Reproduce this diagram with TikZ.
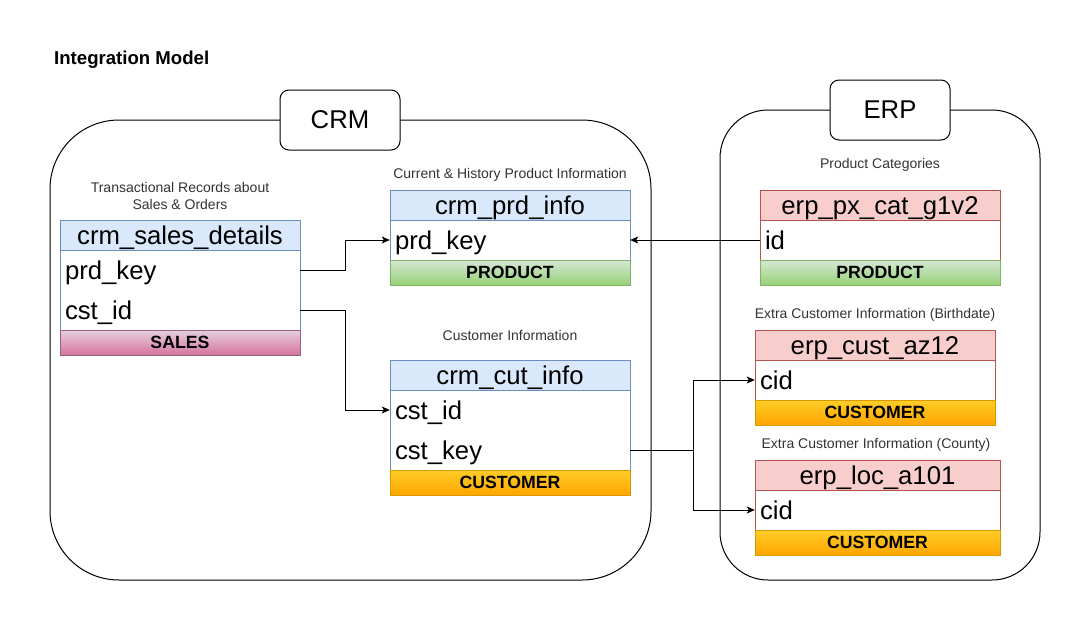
\documentclass[tikz,border=0pt]{standalone}
\usepackage{fontspec}
\setmainfont{Liberation Sans}
\usetikzlibrary{arrows.meta}
\newcommand\hdrfont{\fontsize{25.7}{30}\selectfont}
\newcommand\lblfont{\fontsize{14}{17}\selectfont}
\newcommand\ftrfont{\fontsize{17.7}{20}\selectfont\bfseries}
\newcommand\ttlfont{\fontsize{18.6}{21}\selectfont\bfseries}
\definecolor{bluefill}{HTML}{DAE8FC}
\definecolor{bluestroke}{HTML}{6C8EBF}
\definecolor{redfill}{HTML}{F8CECC}
\definecolor{redstroke}{HTML}{B85450}
\definecolor{greentop}{HTML}{D5E8D4}
\definecolor{greenbot}{HTML}{97D077}
\definecolor{greenstroke}{HTML}{82B366}
\definecolor{pinktop}{HTML}{E6D0DE}
\definecolor{pinkbot}{HTML}{D5739D}
\definecolor{pinkstroke}{HTML}{996185}
\definecolor{orangetop}{HTML}{FFCD28}
\definecolor{orangebot}{HTML}{FFA500}
\definecolor{orangestroke}{HTML}{D79B00}
\definecolor{lblgray}{HTML}{333333}
\tikzset{
  container/.style={draw=black, line width=1pt, fill=white, rectangle, inner sep=0pt},
  sysbox/.style={draw=black, line width=1pt, fill=white, rectangle, rounded corners=9pt,
    minimum width=120pt, minimum height=60pt, inner sep=0pt, font=\hdrfont},
  hdr/.style={draw=#1, line width=1pt, rectangle, minimum height=30pt, inner sep=0pt,
    font=\hdrfont, text height=18.4pt, text depth=0pt},
  bodybox/.style={draw=#1, fill=white, line width=1pt, rectangle, inner sep=0pt},
  rowtext/.style={rectangle, minimum height=40pt, inner xsep=5pt, inner ysep=0pt,
    align=left, font=\hdrfont, text height=18.4pt, text depth=0pt},
  ftr/.style={draw=#1, line width=1pt, rectangle, minimum height=25pt, inner sep=0pt, font=\ftrfont},
  lbl/.style={font=\lblfont, text=lblgray, inner sep=0pt, align=center},
  conn/.style={draw=black, line width=1pt, -{Stealth[length=8pt,width=7pt,inset=2pt]}},
}
\begin{document}
\begin{tikzpicture}[x=1pt,y=-1pt]
\useasboundingbox (0,0) rectangle (1081,621);
\fill[white] (0,0) rectangle (1081,621);

\node[font=\ttlfont, anchor=west, inner sep=0pt] (title) at (54,60) {Integration Model};

% containers
\node[container, rounded corners=69pt, minimum width=601pt, minimum height=460pt] (crm) at (350.5,350) {};
\node[container, rounded corners=48pt, minimum width=320pt, minimum height=470pt] (erp) at (880,345) {};
\node[sysbox] (crmlbl) at (340,120) {CRM};
\node[sysbox] (erplbl) at (890,110) {ERP};

% crm_sales_details
\node[lbl] (sdlbl) at (180,195.5) {Transactional Records about\\Sales \& Orders};
\node[hdr=bluestroke, fill=bluefill, minimum width=240pt] (sdh) at (180,235) {crm\_sales\_details};
\node[bodybox=bluestroke, minimum width=240pt, minimum height=80pt] (sdb) at (180,290) {};
\node[rowtext, text width=230pt, minimum width=240pt] (sdr1) at (180,270) {prd\_key};
\node[rowtext, text width=230pt, minimum width=240pt] (sdr2) at (180,310) {cst\_id};
\node[ftr=pinkstroke, top color=pinktop, bottom color=pinkbot, minimum width=240pt] (sdf) at (180,342.5) {SALES};

% crm_prd_info
\node[lbl] (pilbl) at (510,175) {Current \& History Product Information};
\node[hdr=bluestroke, fill=bluefill, minimum width=240pt] (pih) at (510,205) {crm\_prd\_info};
\node[bodybox=bluestroke, minimum width=240pt, minimum height=40pt] (pib) at (510,240) {};
\node[rowtext, text width=230pt, minimum width=240pt] (pir1) at (510,240) {prd\_key};
\node[ftr=greenstroke, top color=greentop, bottom color=greenbot, minimum width=240pt] (pif) at (510,272.5) {PRODUCT};

% crm_cut_info
\node[lbl] (cilbl) at (510,335) {Customer Information};
\node[hdr=bluestroke, fill=bluefill, minimum width=240pt] (cih) at (510,375) {crm\_cut\_info};
\node[bodybox=bluestroke, minimum width=240pt, minimum height=80pt] (cib) at (510,430) {};
\node[rowtext, text width=230pt, minimum width=240pt] (cir1) at (510,410) {cst\_id};
\node[rowtext, text width=230pt, minimum width=240pt] (cir2) at (510,450) {cst\_key};
\node[ftr=orangestroke, top color=orangetop, bottom color=orangebot, minimum width=240pt] (cif) at (510,482.5) {CUSTOMER};

% erp_px_cat_g1v2
\node[lbl] (pclbl) at (880,165) {Product Categories};
\node[hdr=redstroke, fill=redfill, minimum width=240pt] (pch) at (880,205) {erp\_px\_cat\_g1v2};
\node[bodybox=redstroke, minimum width=240pt, minimum height=40pt] (pcb) at (880,240) {};
\node[rowtext, text width=230pt, minimum width=240pt] (pcr1) at (880,240) {id};
\node[ftr=greenstroke, top color=greentop, bottom color=greenbot, minimum width=240pt] (pcf) at (880,272.5) {PRODUCT};

% erp_cust_az12
\node[lbl] (azlbl) at (875,315) {Extra Customer Information (Birthdate)};
\node[hdr=redstroke, fill=redfill, minimum width=240pt] (azh) at (875,345) {erp\_cust\_az12};
\node[bodybox=redstroke, minimum width=240pt, minimum height=40pt] (azb) at (875,380) {};
\node[rowtext, text width=230pt, minimum width=240pt] (azr1) at (875,380) {cid};
\node[ftr=orangestroke, top color=orangetop, bottom color=orangebot, minimum width=240pt] (azf) at (875,412.5) {CUSTOMER};

% erp_loc_a101
\node[lbl] (loclbl) at (876,445) {Extra Customer Information (County)};
\node[hdr=redstroke, fill=redfill, minimum width=245pt] (loch) at (877.5,475) {erp\_loc\_a101};
\node[bodybox=redstroke, minimum width=245pt, minimum height=40pt] (locb) at (877.5,510) {};
\node[rowtext, text width=235pt, minimum width=245pt] (locr1) at (877.5,510) {cid};
\node[ftr=orangestroke, top color=orangetop, bottom color=orangebot, minimum width=245pt] (locf) at (877.5,542.5) {CUSTOMER};

% connectors
\coordinate (j1) at (345,270);
\coordinate (j2) at (345,310);
\coordinate (j3) at (693,450);
\draw[conn] (sdr1.east) -- (j1) |- (pir1.west);
\draw[conn] (sdr2.east) -- (j2) |- (cir1.west);
\draw[conn] (pcr1.west) -- (pir1.east);
\draw[conn] (cir2.east) -- (j3) |- (azr1.west);
\draw[conn] (j3) |- (locr1.west);
\end{tikzpicture}
\end{document}
